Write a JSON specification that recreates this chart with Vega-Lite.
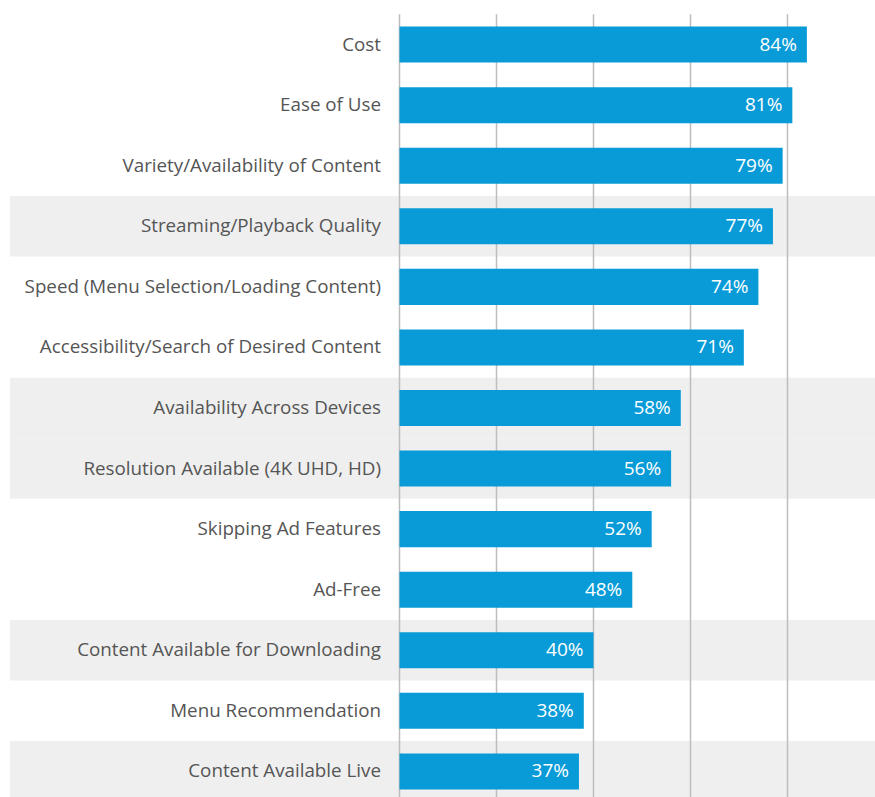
{
  "$schema": "https://vega.github.io/schema/vega-lite/v6.json",
  "autosize": "none",
  "padding": {"left": 399.5, "top": 14.3, "right": 0, "bottom": 0},
  "width": 485,
  "height": 787.4,
  "background": "white",
  "config": {
    "view": {"stroke": null},
    "font": "Open Sans"
  },
  "datasets": {
    "grid": [{"g": 0}, {"g": 20}, {"g": 40}, {"g": 60}, {"g": 80}, {"g": 100}]
  },
  "data": {
    "values": [
      {"factor": "Cost", "pct": 84, "shade": 0},
      {"factor": "Ease of Use", "pct": 81, "shade": 0},
      {"factor": "Variety/Availability of Content", "pct": 79, "shade": 0},
      {"factor": "Streaming/Playback Quality", "pct": 77, "shade": 1},
      {"factor": "Speed (Menu Selection/Loading Content)", "pct": 74, "shade": 0},
      {"factor": "Accessibility/Search of Desired Content", "pct": 71, "shade": 0},
      {"factor": "Availability Across Devices", "pct": 58, "shade": 1},
      {"factor": "Resolution Available (4K UHD, HD)", "pct": 56, "shade": 1},
      {"factor": "Skipping Ad Features", "pct": 52, "shade": 0},
      {"factor": "Ad-Free", "pct": 48, "shade": 0},
      {"factor": "Content Available for Downloading", "pct": 40, "shade": 1},
      {"factor": "Menu Recommendation", "pct": 38, "shade": 0},
      {"factor": "Content Available Live", "pct": 37, "shade": 1}
    ]
  },
  "layer": [
    {
      "transform": [
        {"filter": "datum.shade == 1"},
        {"calculate": "-80.3", "as": "x0"},
        {"calculate": "110", "as": "x1"}
      ],
      "mark": {"type": "bar", "color": "#efefef", "clip": false},
      "encoding": {
        "y": {
          "field": "factor",
          "type": "nominal",
          "scale": {
            "domain": [
              "Cost",
              "Ease of Use",
              "Variety/Availability of Content",
              "Streaming/Playback Quality",
              "Speed (Menu Selection/Loading Content)",
              "Accessibility/Search of Desired Content",
              "Availability Across Devices",
              "Resolution Available (4K UHD, HD)",
              "Skipping Ad Features",
              "Ad-Free",
              "Content Available for Downloading",
              "Menu Recommendation",
              "Content Available Live"
            ],
            "paddingInner": 0,
            "paddingOuter": 0
          },
          "axis": {
            "title": null,
            "domain": false,
            "ticks": false,
            "labelPadding": 19,
            "labelFontSize": 18.8,
            "labelFont": "Open Sans",
            "labelColor": "#555555",
            "labelLimit": 400,
            "zindex": 1
          }
        },
        "x": {
          "field": "x0",
          "type": "quantitative",
          "scale": {"domain": [0, 100], "nice": false},
          "axis": null
        },
        "x2": {"field": "x1"}
      }
    },
    {
      "data": {"name": "grid"},
      "mark": {"type": "rule", "color": "#bdbdbd", "strokeWidth": 1.5},
      "encoding": {
        "x": {"field": "g", "type": "quantitative"}
      }
    },
    {
      "mark": {"type": "bar", "color": "#089bd7", "height": {"band": 0.595}},
      "encoding": {
        "y": {"field": "factor", "type": "nominal"},
        "x": {"field": "pct", "type": "quantitative"}
      }
    },
    {
      "transform": [{"calculate": "datum.pct + '%'", "as": "lbl"}],
      "mark": {
        "type": "text",
        "align": "right",
        "baseline": "middle",
        "dx": -10,
        "color": "white",
        "fontSize": 19,
        "font": "Open Sans"
      },
      "encoding": {
        "y": {"field": "factor", "type": "nominal"},
        "x": {"field": "pct", "type": "quantitative"},
        "text": {"field": "lbl"}
      }
    }
  ]
}
